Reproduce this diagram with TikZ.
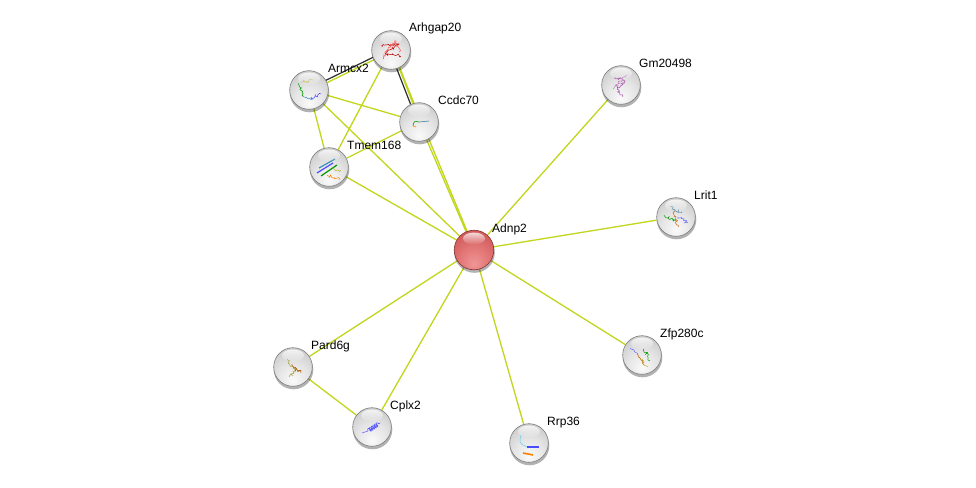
\documentclass[tikz,border=0pt]{standalone}
\usepackage{fontspec}
\setmainfont{Liberation Sans}
\usetikzlibrary{calc,fadings,decorations.pathmorphing}
\definecolor{tm}{RGB}{193,214,28}
\definecolor{coex}{RGB}{45,45,45}
\definecolor{gA}{RGB}{250,250,250}
\definecolor{gB}{RGB}{228,228,228}
\definecolor{gC}{RGB}{200,200,200}
\definecolor{gD}{RGB}{170,170,170}
\definecolor{gE}{RGB}{135,135,135}
\definecolor{gF}{RGB}{100,100,100}
\definecolor{rA}{RGB}{240,150,150}
\definecolor{rB}{RGB}{225,115,115}
\definecolor{rC}{RGB}{205,85,85}
\definecolor{rD}{RGB}{180,60,60}
\definecolor{rE}{RGB}{150,40,40}
\definecolor{rF}{RGB}{110,25,25}
\definecolor{rim}{RGB}{125,125,125}
\definecolor{rrim}{RGB}{140,50,50}
\pgfdeclareradialshading{greysphere}{\pgfpoint{0bp}{-18bp}}{color(0bp)=(gA); color(20bp)=(gB); color(38bp)=(gC); color(52bp)=(gD); color(60bp)=(gE); color(70bp)=(gF); color(90bp)=(gF)}
\pgfdeclareradialshading{redsphere}{\pgfpoint{0bp}{-18bp}}{color(0bp)=(rA); color(20bp)=(rB); color(38bp)=(rC); color(52bp)=(rD); color(60bp)=(rE); color(70bp)=(rF); color(90bp)=(rF)}
\tikzfading[name=hlfade, top color=transparent!15, bottom color=transparent!100]
\tikzset{
  ball/.style={circle, minimum size=39pt, inner sep=0pt},
  lbl/.style={anchor=base west, inner sep=0pt, font=\fontsize{12}{14}\selectfont},
  edge/.style={draw=tm, line width=1.3pt},
  coedge/.style={draw=coex, line width=1.2pt},
  squig/.style={line width=0.5pt, decorate, decoration={random steps, segment length=1.2pt, amplitude=1.6pt}},
}
\newcommand\greyball[1]{%
  \fill[black, opacity=0.3] ($(#1)+(0.5,2.5)$) circle (19.8);
  \shade[shading=greysphere, draw=rim, line width=0.6pt] (#1) circle (19.3);
}
\newcommand\highlight[1]{%
  \fill[white, path fading=hlfade, fill opacity=0.9] ($(#1)+(0,-11.5)$) ellipse (11 and 6);
}
\begin{document}
\begin{tikzpicture}[x=1pt,y=-1pt]
\useasboundingbox[fill=white] (0,0) rectangle (976,487);
% nodes
\node[ball] (adnp2) at (474,250) {};
\node[ball] (arhgap20) at (391,50) {};
\node[ball] (armcx2) at (309,90) {};
\node[ball] (ccdc70) at (419,122) {};
\node[ball] (tmem168) at (329,167) {};
\node[ball] (gm20498) at (621,85) {};
\node[ball] (lrit1) at (676,217) {};
\node[ball] (zfp280c) at (642,355) {};
\node[ball] (rrp36) at (529,443) {};
\node[ball] (cplx2) at (372,427) {};
\node[ball] (pard6g) at (293,367) {};
% edges
\draw[edge] ($(armcx2)!1.3pt!-90:(arhgap20)$) -- ($(arhgap20)!1.3pt!90:(armcx2)$);
\draw[coedge] ($(armcx2)!1.3pt!90:(arhgap20)$) -- ($(arhgap20)!1.3pt!-90:(armcx2)$);
\draw[edge, line width=2pt] ($(arhgap20)!1.4pt!90:(ccdc70)$) -- ($(ccdc70)!1.4pt!-90:(arhgap20)$);
\draw[coedge] ($(arhgap20)!1.4pt!-90:(ccdc70)$) -- ($(ccdc70)!1.4pt!90:(arhgap20)$);
\draw[edge] (arhgap20) -- (tmem168);
\draw[edge] (armcx2) -- (ccdc70);
\draw[edge] (armcx2) -- (tmem168);
\draw[edge] (armcx2) -- (adnp2);
\draw[edge] (tmem168) -- (ccdc70);
\draw[edge] (tmem168) -- (adnp2);
\draw[edge] (ccdc70) -- (adnp2);
\draw[edge] ($(arhgap20)!0.8pt!90:(adnp2)$) -- ($(adnp2)!0.8pt!-90:(arhgap20)$);
\draw[edge] (gm20498) -- (adnp2);
\draw[edge] (lrit1) -- (adnp2);
\draw[edge] (zfp280c) -- (adnp2);
\draw[edge] (rrp36) -- (adnp2);
\draw[edge] (cplx2) -- (adnp2);
\draw[edge] (pard6g) -- (adnp2);
\draw[edge] (pard6g) -- (cplx2);
% spheres
\foreach \n in {arhgap20,armcx2,ccdc70,tmem168,gm20498,lrit1,zfp280c,rrp36,cplx2,pard6g}{\greyball{\n}}
\fill[black, opacity=0.3] ($(adnp2)+(0.5,2.5)$) circle (20.3);
\shade[shading=redsphere, draw=rrim, line width=0.6pt] (adnp2) circle (19.8);
% protein structures
\draw[squig, red!75!black] ($(arhgap20)+(-10,-4)$) -- ($(arhgap20)+(8,-6)$) -- ($(arhgap20)+(-6,4)$) -- ($(arhgap20)+(10,6)$);
\draw[squig, red!65] ($(arhgap20)+(-8,8)$) -- ($(arhgap20)+(4,-10)$) -- ($(arhgap20)+(9,2)$);
\draw[squig, green!60!black] ($(armcx2)+(-10,-6)$) -- ($(armcx2)+(-6,6)$);
\draw[squig, cyan!70!black] ($(armcx2)+(-6,6)$) -- ($(armcx2)+(4,9)$);
\draw[squig, blue!70] ($(armcx2)+(2,8)$) -- ($(armcx2)+(12,4)$);
\draw[squig, yellow!70!black] ($(armcx2)+(-8,-8)$) -- ($(armcx2)+(4,-10)$);
\draw[line width=0.6pt, green!60!black] ($(ccdc70)+(-6,4)$) .. controls ($(ccdc70)+(-5,-1)$) .. ($(ccdc70)+(0,0)$);
\draw[line width=0.6pt, cyan!60!black] ($(ccdc70)+(0,0)$) -- ($(ccdc70)+(10,-1)$);
\draw[line width=0.6pt, orange] ($(ccdc70)+(-6,4)$) -- ($(ccdc70)+(-3,5)$);
\draw[line width=1.2pt, blue!70] ($(tmem168)+(-12,6)$) -- ($(tmem168)+(4,-4)$);
\draw[line width=1.2pt, cyan!70!black] ($(tmem168)+(-10,1)$) -- ($(tmem168)+(6,-8)$);
\draw[line width=1.2pt, green!60!black] ($(tmem168)+(-8,9)$) -- ($(tmem168)+(8,-2)$);
\draw[squig, orange] ($(tmem168)+(-2,8)$) -- ($(tmem168)+(10,12)$);
\draw[squig, yellow!70!black] ($(tmem168)+(4,2)$) -- ($(tmem168)+(12,4)$);
\draw[squig, violet!70] ($(gm20498)+(-6,-8)$) -- ($(gm20498)+(4,-4)$) -- ($(gm20498)+(-4,4)$) -- ($(gm20498)+(2,12)$);
\draw[squig, violet!50] ($(gm20498)+(-8,4)$) -- ($(gm20498)+(6,-10)$);
\draw[squig, green!60!black] ($(lrit1)+(-12,-2)$) -- ($(lrit1)+(0,4)$);
\draw[squig, orange!80!black] ($(lrit1)+(-2,-6)$) -- ($(lrit1)+(2,10)$);
\draw[squig, blue!60] ($(lrit1)+(2,0)$) -- ($(lrit1)+(12,6)$);
\draw[squig, cyan!60!black] ($(lrit1)+(-6,-10)$) -- ($(lrit1)+(6,-4)$);
\draw[squig, blue!60] ($(zfp280c)+(-12,-6)$) -- ($(zfp280c)+(-6,-2)$);
\draw[squig, orange!80!black] ($(zfp280c)+(-4,-2)$) -- ($(zfp280c)+(2,10)$);
\draw[squig, green!60!black] ($(zfp280c)+(2,-6)$) -- ($(zfp280c)+(8,6)$);
\draw[squig, yellow!70!black] ($(zfp280c)+(-2,4)$) -- ($(zfp280c)+(6,12)$);
\draw[line width=0.5pt, cyan!60] ($(rrp36)+(-8,-8)$) .. controls ($(rrp36)+(-10,0)$) .. ($(rrp36)+(-2,4)$);
\draw[line width=1.6pt, blue!70] ($(rrp36)+(-2,4)$) -- ($(rrp36)+(10,4)$);
\draw[line width=1.6pt, orange] ($(rrp36)+(-6,10)$) -- ($(rrp36)+(4,12)$);
\draw[line width=0.5pt, blue!60] ($(cplx2)+(-10,6)$) -- ($(cplx2)+(-4,4)$);
\draw[line width=0.6pt, blue!65, decorate, decoration={coil, segment length=2pt, amplitude=2pt}] ($(cplx2)+(-4,4)$) -- ($(cplx2)+(8,-4)$);
\draw[squig, yellow!60!black] ($(pard6g)+(-6,-8)$) -- ($(pard6g)+(2,4)$) -- ($(pard6g)+(-4,10)$);
\draw[squig, orange!70!black] ($(pard6g)+(-2,-2)$) -- ($(pard6g)+(8,6)$);
% highlights
\foreach \n in {adnp2,arhgap20,armcx2,ccdc70,tmem168,gm20498,lrit1,zfp280c,rrp36,cplx2,pard6g}{\highlight{\n}}
% labels
\node[lbl] at ($(adnp2)+(18,-18)$) {Adnp2};
\node[lbl] at ($(arhgap20)+(18,-18)$) {Arhgap20};
\node[lbl] at ($(armcx2)+(19,-18)$) {Armcx2};
\node[lbl] at ($(ccdc70)+(19,-18)$) {Ccdc70};
\node[lbl] at ($(tmem168)+(18,-18)$) {Tmem168};
\node[lbl] at ($(gm20498)+(18,-18)$) {Gm20498};
\node[lbl] at ($(lrit1)+(18,-18)$) {Lrit1};
\node[lbl] at ($(zfp280c)+(18,-18)$) {Zfp280c};
\node[lbl] at ($(rrp36)+(18,-18)$) {Rrp36};
\node[lbl] at ($(cplx2)+(18,-18)$) {Cplx2};
\node[lbl] at ($(pard6g)+(18,-18)$) {Pard6g};
\end{tikzpicture}
\end{document}
